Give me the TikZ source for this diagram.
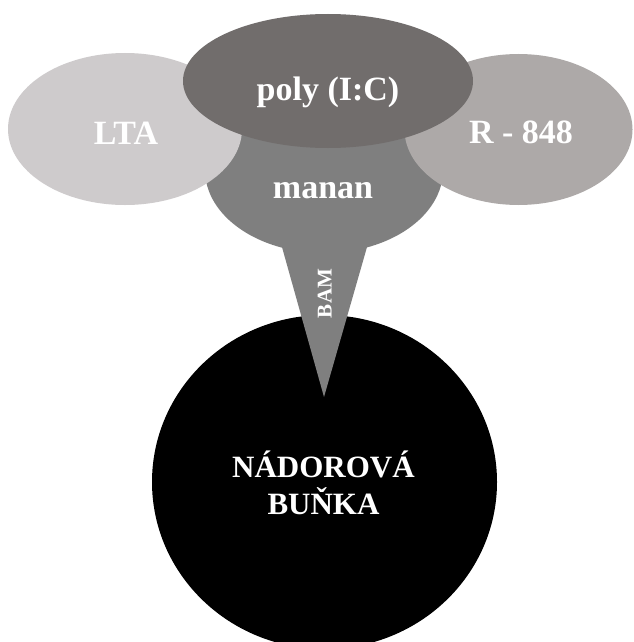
\documentclass[tikz,border=0pt]{standalone}
\usepackage{fontspec}
\setmainfont{Liberation Serif}
\usetikzlibrary{shapes.geometric}
\definecolor{ltagray}{HTML}{CECBCC}
\definecolor{rgray}{HTML}{ADA9A8}
\definecolor{polygray}{HTML}{716D6C}
\definecolor{manangray}{HTML}{7F7F7F}
\tikzset{
  blob/.style={ellipse, inner sep=0pt, draw=none},
  bigtext/.style={text=white, font=\fontsize{34}{40}\selectfont\bfseries, inner sep=0pt, anchor=base},
  celltext/.style={text=white, font=\fontsize{31}{37}\selectfont\bfseries, inner sep=0pt, align=center},
  smalltext/.style={text=white, font=\fontsize{21}{25}\selectfont\bfseries, inner sep=0pt, anchor=base, rotate=90}
}
\begin{document}
\begin{tikzpicture}[x=1pt,y=-1pt]
\clip (0,0) rectangle (633,642);
\fill[white] (0,0) rectangle (633,642);
% tumour cell
\node[blob, fill=black, minimum width=345pt, minimum height=334pt] (cell) at (324.5,482) {};
% manan with BAM wedge
\node[blob, fill=manangray, minimum width=238pt, minimum height=166pt] (manan) at (324,170) {};
\coordinate (tip) at (324,397);
\coordinate (wl) at (268.8,200);
\coordinate (wr) at (380.5,200);
\fill[manangray] (wl) -- (tip) -- (wr) -- cycle;
% side ellipses
\node[blob, fill=ltagray, minimum width=234pt, minimum height=152pt] (lta) at (125,129) {};
\node[blob, fill=rgray, minimum width=228pt, minimum height=151pt] (r848) at (518.5,129.5) {};
% poly (I:C)
\node[blob, fill=polygray, minimum width=290pt, minimum height=134pt] (poly) at (328,81) {};
% labels
\node[bigtext] (tlta) at (126,144) {LTA};
\node[bigtext] (tr848) at (521,143) {R - 848};
\node[bigtext] (tpoly) at (328,100) {poly (I:C)};
\node[bigtext] (tmanan) at (323,198) {manan};
\node[smalltext] (tbam) at (331.5,293.5) {BAM};
\node[celltext] (tcell) at (323.5,483) {NÁDOROVÁ\\BUŇKA};
\end{tikzpicture}
\end{document}
